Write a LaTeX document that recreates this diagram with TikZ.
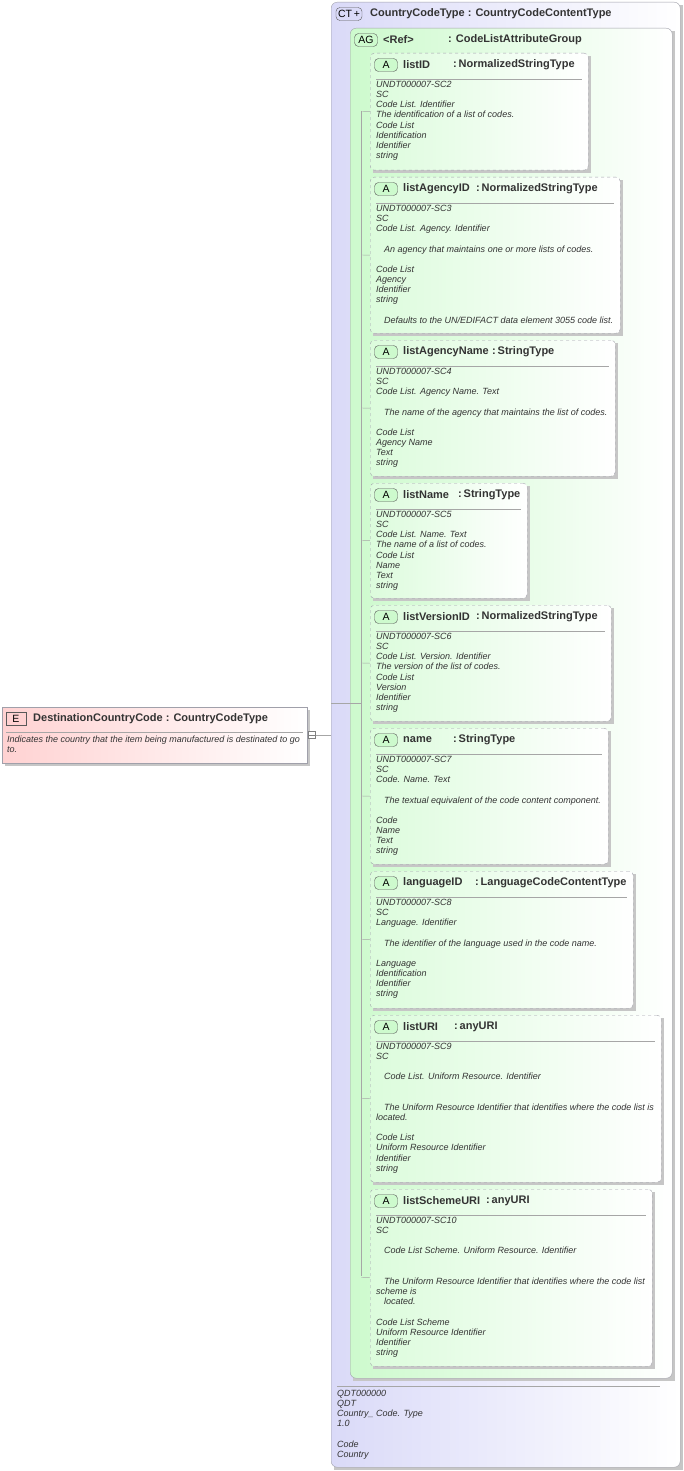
\documentclass[tikz,border=0pt]{standalone}
\usepackage{fontspec}
\setmainfont{Liberation Sans}
\usetikzlibrary{shadows}
\definecolor{ctblue}{RGB}{218,218,248}
\definecolor{agreen}{RGB}{205,250,205}
\definecolor{epink}{RGB}{255,210,210}
\definecolor{bord}{RGB}{160,160,170}
\newcommand\attrbox[8]{%
  \fill[gray!45] (373,#2+3) rectangle (#4+3,#3+3);
  \node[attr, minimum width=#4-370, minimum height=#3-#2] (#1) at (370,#2) {};
  \node[badge, fill=agreen] (#1b) at (386,#2+12) {A};
  \node[title] (#1n) at (403,#2+12) {#5};
  \node[title] (#1t) at (#6,#2+12) {:\,#7};
  \draw[gray!70] (376,#2+26) -- (#4-6,#2+26);
  \node[lines] (#1l) at (376,#2+28) {#8};
  \draw[gray!70] (361,{(#2+#3)/2}) -- (#1.west);
}
\newcommand\bl{\mbox{}}
\newcommand\ind{\hspace*{8pt}}
\begin{document}
\begin{tikzpicture}[x=1pt,y=-1pt,
  attr/.style={draw=bord, dashed, rounded corners=4pt, left color=agreen!70, right color=white, anchor=north west, inner sep=0},
  badge/.style={draw=gray!70!black, rounded corners=4pt, minimum width=23pt, minimum height=13pt, inner sep=0, font=\fontsize{10.5}{11}\selectfont},
  title/.style={anchor=west, inner sep=0, font=\bfseries\fontsize{11}{12}\selectfont, text=black!80},
  lines/.style={anchor=north west, inner sep=0, align=left, font=\itshape\fontsize{9}{10.15}\selectfont, text=black!80}]
\useasboundingbox (0,0) rectangle (684,1471);
% CT box
\fill[gray!45] (334,5) rectangle (683,1470);
\node[draw=bord, rounded corners=6pt, left color=ctblue, right color=white, anchor=north west, minimum width=349, minimum height=1465, inner sep=0] (ct) at (331,2) {};
\node[badge, fill=ctblue, minimum width=26pt] (ctb) at (349,14) {CT\,+};
\node[title] (ctn) at (370,14) {CountryCodeType : CountryCodeContentType};
% AG box
\fill[gray!45] (353,31) rectangle (675,1381);
\node[draw=bord, rounded corners=6pt, left color=agreen, right color=white, anchor=north west, minimum width=322, minimum height=1350, inner sep=0] (ag) at (350,28) {};
\node[badge, fill=agreen] (agb) at (366,40) {AG};
\node[title] (agn) at (383,40) {<Ref>};
\node[title] (agt) at (448,40) {: CodeListAttributeGroup};
% connector spine
\coordinate (sp1) at (361,111);
\coordinate (sp2) at (361,1276);
\draw[gray!70] (sp1) -- (sp2);
\coordinate (spm) at (361,703);
\draw[gray!70] (ct.west |- spm) -- (spm);
\attrbox{a1}{53}{170}{588}{listID}{453}{NormalizedStringType}{UNDT000007-SC2\\SC\\Code List. Identifier\\The identification of a list of codes.\\Code List\\Identification\\Identifier\\string}
\attrbox{a2}{177}{333}{620}{listAgencyID}{476}{NormalizedStringType}{UNDT000007-SC3\\SC\\Code List. Agency. Identifier\\\bl\\\ind An agency that maintains one or more lists of codes.\\\bl\\Code List\\Agency\\Identifier\\string\\\bl\\\ind Defaults to the UN/EDIFACT data element 3055 code list.}
\attrbox{a3}{340}{476}{615}{listAgencyName}{492}{StringType}{UNDT000007-SC4\\SC\\Code List. Agency Name. Text\\\bl\\\ind The name of the agency that maintains the list of codes.\\\bl\\Code List\\Agency Name\\Text\\string}
\attrbox{a4}{483}{598}{527}{listName}{458}{StringType}{UNDT000007-SC5\\SC\\Code List. Name. Text\\The name of a list of codes.\\Code List\\Name\\Text\\string}
\attrbox{a5}{605}{721}{611}{listVersionID}{476}{NormalizedStringType}{UNDT000007-SC6\\SC\\Code List. Version. Identifier\\The version of the list of codes.\\Code List\\Version\\Identifier\\string}
\attrbox{a6}{728}{864}{608}{name}{453}{StringType}{UNDT000007-SC7\\SC\\Code. Name. Text\\\bl\\\ind The textual equivalent of the code content component.\\\bl\\Code\\Name\\Text\\string}
\attrbox{a7}{871}{1008}{633}{languageID}{475}{LanguageCodeContentType}{UNDT000007-SC8\\SC\\Language. Identifier\\\bl\\\ind The identifier of the language used in the code name.\\\bl\\Language\\Identification\\Identifier\\string}
\attrbox{a8}{1015}{1182}{661}{listURI}{454}{anyURI}{UNDT000007-SC9\\SC\\\bl\\\ind Code List. Uniform Resource. Identifier\\\bl\\\bl\\\ind The Uniform Resource Identifier that identifies where the code list is\\located.\\\bl\\Code List\\Uniform Resource Identifier\\Identifier\\string}
\attrbox{a9}{1189}{1366}{652}{listSchemeURI}{486}{anyURI}{UNDT000007-SC10\\SC\\\bl\\\ind Code List Scheme. Uniform Resource. Identifier\\\bl\\\bl\\\ind The Uniform Resource Identifier that identifies where the code list\\scheme is\\\ind located.\\\bl\\Code List Scheme\\Uniform Resource Identifier\\Identifier\\string}
% CT bottom text
\draw[gray!70] (337,1386) -- (660,1386);
\node[lines] (ctl) at (337,1390) {QDT000000\\QDT\\Country\_ Code. Type\\1.0\\\bl\\Code\\Country};
% E box
\fill[gray!45] (5,710) rectangle (310,766);
\node[draw=bord, left color=epink, right color=white, anchor=north west, minimum width=305, minimum height=56, inner sep=0] (e) at (2,707) {};
\node[badge, fill=epink, rounded corners=0pt, minimum width=20pt] (eb) at (16,719) {E};
\node[title] (en) at (33,719) {DestinationCountryCode : CountryCodeType};
\draw[gray!70] (6,732) -- (303,732);
\node[lines] (el) at (7,736) {Indicates the country that the item being manufactured is destinated to go\\to.};
\node[draw=gray, fill=white, minimum size=7pt, inner sep=0] (col) at (312,735) {};
\draw[gray] (col.west) -- (col.east);
\draw[gray!70] (col.east) -- (ct.west |- col);
\end{tikzpicture}
\end{document}
